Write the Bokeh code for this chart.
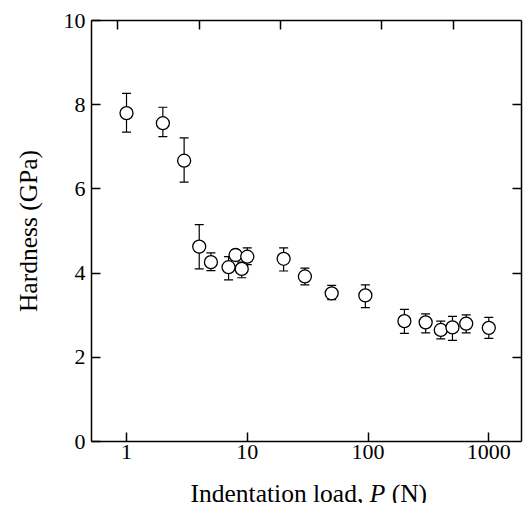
from bokeh.plotting import figure
from bokeh.layouts import column
from bokeh.models import (Range1d, FixedTicker, LinearAxis, LogAxis, Whisker,
                          TeeHead, ColumnDataSource, Label, CustomJSTickFormatter)
from bokeh.embed import file_html
from bokeh.resources import INLINE

# ---- data ----
load_N = [1, 2, 3, 4, 5, 7, 8, 9, 10, 20, 30, 50, 95, 200, 300, 400, 500, 650, 1000]
hardness = [7.80, 7.56, 6.67, 4.63, 4.26, 4.14, 4.43, 4.10, 4.39, 4.34, 3.92,
            3.52, 3.47, 2.86, 2.83, 2.65, 2.71, 2.80, 2.70]
err_upper = [8.27, 7.94, 7.21, 5.15, 4.48, 4.39, 4.55, 4.26, 4.60, 4.60, 4.12,
             3.71, 3.72, 3.14, 3.03, 2.86, 2.97, 3.01, 2.95]
err_lower = [7.35, 7.24, 6.16, 4.10, 4.06, 3.84, 4.30, 3.89, 4.20, 4.05, 3.72,
             3.37, 3.18, 2.57, 2.58, 2.44, 2.40, 2.58, 2.45]

x_ticks = [1, 10, 100, 1000]
x_tick_labels = {1: "1", 10: "10", 100: "100", 1000: "1000"}
top_ticks = [0.84, 4, 19, 130, 510]
y_ticks = [0, 2, 4, 6, 8, 10]
right_ticks = [2, 4, 6, 8]

x_title = ["Indentation load,", "P", "(N)"]
y_title = "Hardness (GPa)"

FONT = "Liberation Serif"
TICK_FS = "22px"
LABEL_FS = 25.5

src = ColumnDataSource(dict(x=load_N, y=hardness, up=err_upper, lo=err_lower))

p = figure(x_axis_type="log", x_range=Range1d(0.513, 1865), y_range=Range1d(0, 10),
           width=523, height=470,
           min_border_left=91, min_border_top=20, min_border_right=2,
           min_border_bottom=29,
           output_backend="svg", toolbar_location=None)
p.grid.visible = False
p.outline_line_color = None


def style_axis(ax):
    ax.minor_tick_line_color = None
    ax.major_tick_in = 9
    ax.major_tick_out = 0
    ax.major_tick_line_width = 1.5
    ax.major_tick_line_color = "black"
    ax.axis_line_width = 1.5
    ax.axis_line_color = "black"


# bottom axis
xa = p.xaxis[0]
xa.ticker = FixedTicker(ticks=x_ticks)
xa.major_label_overrides = x_tick_labels
style_axis(xa)
xa.major_label_text_font = FONT
xa.major_label_text_font_size = TICK_FS
xa.major_label_text_color = "black"
xa.major_label_standoff = 3

# left axis
ya = p.yaxis[0]
ya.ticker = FixedTicker(ticks=y_ticks)
style_axis(ya)
ya.major_label_text_font = FONT
ya.major_label_text_font_size = TICK_FS
ya.major_label_text_color = "black"
ya.major_label_standoff = 6
ya.axis_label = y_title
ya.axis_label_text_font = FONT
ya.axis_label_text_font_size = f"{LABEL_FS}px"
ya.axis_label_text_font_style = "normal"
ya.axis_label_text_color = "black"
ya.axis_label_standoff = 18

blank = CustomJSTickFormatter(code="return ''")

# right axis (ticks only)
ra = LinearAxis(ticker=FixedTicker(ticks=right_ticks), formatter=blank)
style_axis(ra)
ra.major_label_standoff = 0
p.add_layout(ra, "right")

# top axis (ticks only)
ta = LogAxis(ticker=FixedTicker(ticks=top_ticks), formatter=blank)
style_axis(ta)
ta.major_label_standoff = 0
p.add_layout(ta, "above")

# error bars
w = Whisker(source=src, base="x", upper="up", lower="lo", dimension="height",
            line_color="black", line_width=1.2,
            upper_head=TeeHead(size=9, line_color="black", line_width=1.2),
            lower_head=TeeHead(size=9, line_color="black", line_width=1.2),
            level="underlay")
p.add_layout(w)

p.scatter("x", "y", source=src, marker="circle", size=13,
          fill_color="white", line_color="black", line_width=1.3)

# x-axis title strip (allows an italic P); its frame matches the main frame
p2 = figure(width=523, height=33, x_range=Range1d(0, 430), y_range=Range1d(0, 33),
            x_axis_location=None, y_axis_location=None, title=None,
            min_border_left=91, min_border_right=2, min_border_top=0,
            min_border_bottom=0,
            output_backend="svg", toolbar_location=None)
p2.grid.visible = False
p2.outline_line_color = None

em = LABEL_FS / 1000.0
w1 = 7027 * em            # "Indentation load, " (Times metrics)
w2 = 611 * em + 250 * em  # italic "P" + space
common = dict(x=99, y=10, text_font=FONT, text_font_size=f"{LABEL_FS}px",
              text_color="black", text_baseline="alphabetic", text_align="left")
p2.add_layout(Label(text=x_title[0], **common))
p2.add_layout(Label(text=x_title[1], x_offset=w1, text_font_style="italic", **common))
p2.add_layout(Label(text=x_title[2], x_offset=w1 + w2, **common))

layout = column(p, p2, spacing=0)
open("out.html", "w").write(file_html(layout, INLINE))
